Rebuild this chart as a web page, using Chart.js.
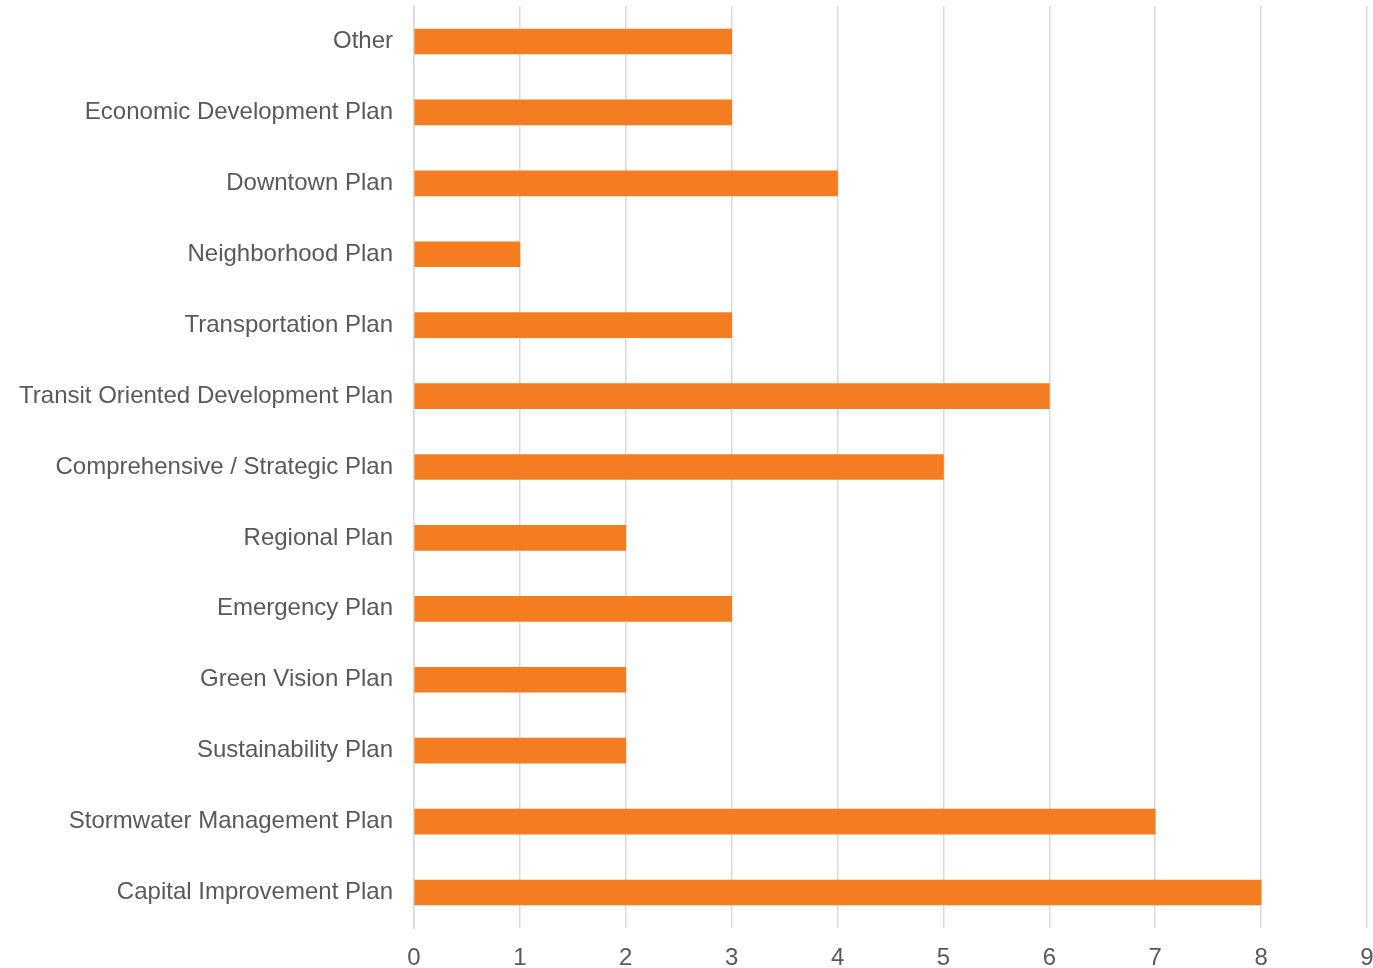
<!DOCTYPE html>
<html>
<head>
<meta charset="utf-8">
<script src="https://cdn.jsdelivr.net/npm/chart.js@4"></script>
<style>
  html, body { margin: 0; padding: 0; background: #fff; }
  #wrap { width: 1373px; height: 968px; position: relative; }
</style>
</head>
<body>
<div id="wrap"><canvas id="plansChart"></canvas></div>
<script>
const planLabels = [
    'Other',
    'Economic Development Plan',
    'Downtown Plan',
    'Neighborhood Plan',
    'Transportation Plan',
    'Transit Oriented Development Plan',
    'Comprehensive / Strategic Plan',
    'Regional Plan',
    'Emergency Plan',
    'Green Vision Plan',
    'Sustainability Plan',
    'Stormwater Management Plan',
    'Capital Improvement Plan'
];
const planCounts = [3, 3, 4, 1, 3, 6, 5, 2, 3, 2, 2, 7, 8];
const axisMin = 0;
const axisMax = 9;

document.addEventListener('DOMContentLoaded', function () {
    const ctx = document.getElementById('plansChart');
    const textColor = '#595959';
    const gridColor = '#d9d9d9';
    const barColor = '#f47d22';
    const fontFamily = '"Liberation Sans", Arial, sans-serif';

    // drop the extra padding Chart.js reserves for half-labels at the ends
    function noEdgePadding(scale) {
        scale.paddingTop = 0;
        scale.paddingBottom = 0;
        scale.paddingLeft = 0;
        scale.paddingRight = 0;
    }

    new Chart(ctx, {
        type: 'bar',
        data: {
            labels: planLabels,
            datasets: [{
                data: planCounts,
                backgroundColor: barColor,
                borderWidth: 0,
                barThickness: 25
            }]
        },
        options: {
            indexAxis: 'y',
            responsive: true,
            maintainAspectRatio: false,
            animation: false,
            layout: {
                padding: { top: 6, right: 6, left: 0, bottom: 0 }
            },
            scales: {
                x: {
                    min: axisMin,
                    max: axisMax,
                    ticks: {
                        stepSize: 1,
                        color: textColor,
                        padding: 16,
                        font: { family: fontFamily, size: 24 }
                    },
                    grid: {
                        color: gridColor,
                        lineWidth: 1.5,
                        drawTicks: false
                    },
                    border: { display: false },
                    afterFit: function (scale) {
                        scale.height = 40;
                        noEdgePadding(scale);
                    }
                },
                y: {
                    ticks: {
                        color: textColor,
                        padding: 21,
                        font: { family: fontFamily, size: 24 }
                    },
                    grid: { display: false, drawTicks: false },
                    border: { display: true, color: gridColor, width: 1.5 },
                    afterFit: function (scale) {
                        scale.width = 414;
                        noEdgePadding(scale);
                    }
                }
            },
            plugins: {
                legend: { display: false },
                tooltip: { enabled: false }
            }
        }
    });
});
</script>
</body>
</html>
